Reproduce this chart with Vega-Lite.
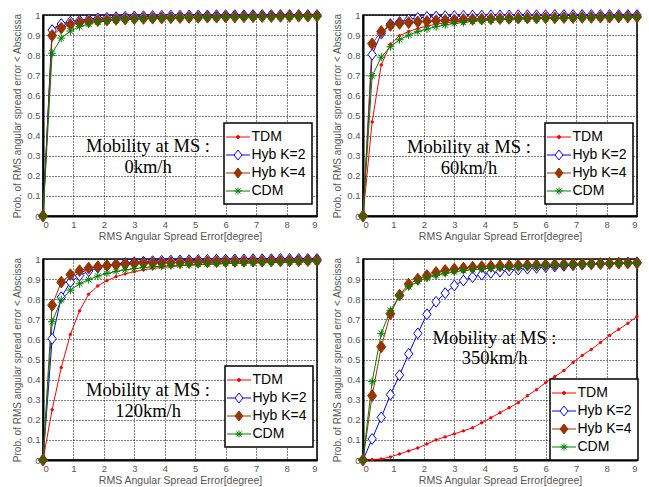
{
"$schema": "https://vega.github.io/schema/vega-lite/v6.json",
"background": "white",
"padding": {"left": 12, "top": 6, "right": 0, "bottom": 0},
"columns": 2,
"spacing": {"row": 43, "column": 46},
"bounds": "flush",
"resolve": {"scale": {"color": "independent", "fill": "independent", "shape": "independent"}, "legend": {"color": "independent", "fill": "independent", "shape": "independent"}},
"config": {
  "view": {"stroke": "black", "strokeWidth": 1.5},
  "axis": {"grid": true, "gridColor": "black", "gridDash": [1, 2], "gridWidth": 1, "gridOpacity": 1, "domainColor": "black", "domainWidth": 2, "ticks": false, "labelFont": "Liberation Sans", "labelFontSize": 9.5, "labelColor": "#555555", "labelPadding": 3, "titleFont": "Liberation Sans", "titleFontWeight": "normal", "titleColor": "#555555", "titleFontSize": 10.5},
  "axisX": {"titlePadding": 3},
  "axisY": {"titleFontSize": 10, "titlePadding": 4},
  "legend": {"fillColor": "white", "strokeColor": "black", "strokeWidth": 1.5, "padding": 5.5, "labelFont": "Liberation Sans", "labelFontSize": 14, "labelColor": "black", "symbolSize": 256, "labelOffset": 5, "rowPadding": 2, "symbolStrokeWidth": 1, "symbolOpacity": 1}
},
"datasets": {
"d0": [
{"x":0,"s":"TDM","p":0},{"x":0.3,"s":"TDM","p":0.93},{"x":0.6,"s":"TDM","p":0.957},{"x":0.9,"s":"TDM","p":0.967},{"x":1.2,"s":"TDM","p":0.973},{"x":1.5,"s":"TDM","p":0.978},{"x":1.8,"s":"TDM","p":0.982},{"x":2.1,"s":"TDM","p":0.985},{"x":2.4,"s":"TDM","p":0.987},{"x":2.7,"s":"TDM","p":0.989},{"x":3,"s":"TDM","p":0.99},{"x":3.3,"s":"TDM","p":0.991},{"x":3.6,"s":"TDM","p":0.992},{"x":3.9,"s":"TDM","p":0.993},{"x":4.2,"s":"TDM","p":0.994},{"x":4.5,"s":"TDM","p":0.995},{"x":4.8,"s":"TDM","p":0.995},{"x":5.1,"s":"TDM","p":0.996},{"x":5.4,"s":"TDM","p":0.996},{"x":5.7,"s":"TDM","p":0.997},{"x":6,"s":"TDM","p":0.997},{"x":6.3,"s":"TDM","p":0.997},{"x":6.6,"s":"TDM","p":0.998},{"x":6.9,"s":"TDM","p":0.998},{"x":7.2,"s":"TDM","p":0.998},{"x":7.5,"s":"TDM","p":0.998},{"x":7.8,"s":"TDM","p":0.999},{"x":8.1,"s":"TDM","p":0.999},{"x":8.4,"s":"TDM","p":0.999},{"x":8.7,"s":"TDM","p":0.999},{"x":9,"s":"TDM","p":1},
{"x":0,"s":"Hyb K=2","p":0},{"x":0.3,"s":"Hyb K=2","p":0.925},{"x":0.6,"s":"Hyb K=2","p":0.955},{"x":0.9,"s":"Hyb K=2","p":0.967},{"x":1.2,"s":"Hyb K=2","p":0.972},{"x":1.5,"s":"Hyb K=2","p":0.978},{"x":1.8,"s":"Hyb K=2","p":0.983},{"x":2.1,"s":"Hyb K=2","p":0.986},{"x":2.4,"s":"Hyb K=2","p":0.989},{"x":2.7,"s":"Hyb K=2","p":0.991},{"x":3,"s":"Hyb K=2","p":0.993},{"x":3.3,"s":"Hyb K=2","p":0.994},{"x":3.6,"s":"Hyb K=2","p":0.995},{"x":3.9,"s":"Hyb K=2","p":0.996},{"x":4.2,"s":"Hyb K=2","p":0.997},{"x":4.5,"s":"Hyb K=2","p":0.997},{"x":4.8,"s":"Hyb K=2","p":0.998},{"x":5.1,"s":"Hyb K=2","p":0.998},{"x":5.4,"s":"Hyb K=2","p":0.998},{"x":5.7,"s":"Hyb K=2","p":0.999},{"x":6,"s":"Hyb K=2","p":0.999},{"x":6.3,"s":"Hyb K=2","p":0.999},{"x":6.6,"s":"Hyb K=2","p":0.999},{"x":6.9,"s":"Hyb K=2","p":1},{"x":7.2,"s":"Hyb K=2","p":1},{"x":7.5,"s":"Hyb K=2","p":1},{"x":7.8,"s":"Hyb K=2","p":1},{"x":8.1,"s":"Hyb K=2","p":1},{"x":8.4,"s":"Hyb K=2","p":1},{"x":8.7,"s":"Hyb K=2","p":1},{"x":9,"s":"Hyb K=2","p":1},
{"x":0,"s":"Hyb K=4","p":0},{"x":0.3,"s":"Hyb K=4","p":0.898},{"x":0.6,"s":"Hyb K=4","p":0.935},{"x":0.9,"s":"Hyb K=4","p":0.953},{"x":1.2,"s":"Hyb K=4","p":0.962},{"x":1.5,"s":"Hyb K=4","p":0.968},{"x":1.8,"s":"Hyb K=4","p":0.972},{"x":2.1,"s":"Hyb K=4","p":0.975},{"x":2.4,"s":"Hyb K=4","p":0.978},{"x":2.7,"s":"Hyb K=4","p":0.98},{"x":3,"s":"Hyb K=4","p":0.982},{"x":3.3,"s":"Hyb K=4","p":0.983},{"x":3.6,"s":"Hyb K=4","p":0.984},{"x":3.9,"s":"Hyb K=4","p":0.985},{"x":4.2,"s":"Hyb K=4","p":0.986},{"x":4.5,"s":"Hyb K=4","p":0.987},{"x":4.8,"s":"Hyb K=4","p":0.988},{"x":5.1,"s":"Hyb K=4","p":0.988},{"x":5.4,"s":"Hyb K=4","p":0.989},{"x":5.7,"s":"Hyb K=4","p":0.989},{"x":6,"s":"Hyb K=4","p":0.99},{"x":6.3,"s":"Hyb K=4","p":0.99},{"x":6.6,"s":"Hyb K=4","p":0.991},{"x":6.9,"s":"Hyb K=4","p":0.991},{"x":7.2,"s":"Hyb K=4","p":0.992},{"x":7.5,"s":"Hyb K=4","p":0.992},{"x":7.8,"s":"Hyb K=4","p":0.993},{"x":8.1,"s":"Hyb K=4","p":0.993},{"x":8.4,"s":"Hyb K=4","p":0.994},{"x":8.7,"s":"Hyb K=4","p":0.994},{"x":9,"s":"Hyb K=4","p":0.995},
{"x":0,"s":"CDM","p":0},{"x":0.3,"s":"CDM","p":0.81},{"x":0.6,"s":"CDM","p":0.885},{"x":0.9,"s":"CDM","p":0.92},{"x":1.2,"s":"CDM","p":0.942},{"x":1.5,"s":"CDM","p":0.955},{"x":1.8,"s":"CDM","p":0.965},{"x":2.1,"s":"CDM","p":0.97},{"x":2.4,"s":"CDM","p":0.975},{"x":2.7,"s":"CDM","p":0.978},{"x":3,"s":"CDM","p":0.98},{"x":3.3,"s":"CDM","p":0.982},{"x":3.6,"s":"CDM","p":0.983},{"x":3.9,"s":"CDM","p":0.984},{"x":4.2,"s":"CDM","p":0.985},{"x":4.5,"s":"CDM","p":0.986},{"x":4.8,"s":"CDM","p":0.987},{"x":5.1,"s":"CDM","p":0.987},{"x":5.4,"s":"CDM","p":0.988},{"x":5.7,"s":"CDM","p":0.988},{"x":6,"s":"CDM","p":0.989},{"x":6.3,"s":"CDM","p":0.989},{"x":6.6,"s":"CDM","p":0.99},{"x":6.9,"s":"CDM","p":0.99},{"x":7.2,"s":"CDM","p":0.991},{"x":7.5,"s":"CDM","p":0.991},{"x":7.8,"s":"CDM","p":0.992},{"x":8.1,"s":"CDM","p":0.992},{"x":8.4,"s":"CDM","p":0.993},{"x":8.7,"s":"CDM","p":0.993},{"x":9,"s":"CDM","p":0.994}
],
"d60": [
{"x":0,"s":"TDM","p":0},{"x":0.3,"s":"TDM","p":0.468},{"x":0.6,"s":"TDM","p":0.752},{"x":0.9,"s":"TDM","p":0.855},{"x":1.2,"s":"TDM","p":0.897},{"x":1.5,"s":"TDM","p":0.918},{"x":1.8,"s":"TDM","p":0.933},{"x":2.1,"s":"TDM","p":0.945},{"x":2.4,"s":"TDM","p":0.954},{"x":2.7,"s":"TDM","p":0.961},{"x":3,"s":"TDM","p":0.966},{"x":3.3,"s":"TDM","p":0.97},{"x":3.6,"s":"TDM","p":0.973},{"x":3.9,"s":"TDM","p":0.976},{"x":4.2,"s":"TDM","p":0.978},{"x":4.5,"s":"TDM","p":0.98},{"x":4.8,"s":"TDM","p":0.981},{"x":5.1,"s":"TDM","p":0.982},{"x":5.4,"s":"TDM","p":0.983},{"x":5.7,"s":"TDM","p":0.984},{"x":6,"s":"TDM","p":0.985},{"x":6.3,"s":"TDM","p":0.986},{"x":6.6,"s":"TDM","p":0.987},{"x":6.9,"s":"TDM","p":0.987},{"x":7.2,"s":"TDM","p":0.988},{"x":7.5,"s":"TDM","p":0.988},{"x":7.8,"s":"TDM","p":0.989},{"x":8.1,"s":"TDM","p":0.989},{"x":8.4,"s":"TDM","p":0.99},{"x":8.7,"s":"TDM","p":0.99},{"x":9,"s":"TDM","p":0.99},
{"x":0,"s":"Hyb K=2","p":0},{"x":0.3,"s":"Hyb K=2","p":0.803},{"x":0.6,"s":"Hyb K=2","p":0.908},{"x":0.9,"s":"Hyb K=2","p":0.955},{"x":1.2,"s":"Hyb K=2","p":0.965},{"x":1.5,"s":"Hyb K=2","p":0.978},{"x":1.8,"s":"Hyb K=2","p":0.985},{"x":2.1,"s":"Hyb K=2","p":0.99},{"x":2.4,"s":"Hyb K=2","p":0.992},{"x":2.7,"s":"Hyb K=2","p":0.994},{"x":3,"s":"Hyb K=2","p":0.995},{"x":3.3,"s":"Hyb K=2","p":0.996},{"x":3.6,"s":"Hyb K=2","p":0.997},{"x":3.9,"s":"Hyb K=2","p":0.997},{"x":4.2,"s":"Hyb K=2","p":0.998},{"x":4.5,"s":"Hyb K=2","p":0.998},{"x":4.8,"s":"Hyb K=2","p":0.998},{"x":5.1,"s":"Hyb K=2","p":0.999},{"x":5.4,"s":"Hyb K=2","p":0.999},{"x":5.7,"s":"Hyb K=2","p":0.999},{"x":6,"s":"Hyb K=2","p":0.999},{"x":6.3,"s":"Hyb K=2","p":1},{"x":6.6,"s":"Hyb K=2","p":1},{"x":6.9,"s":"Hyb K=2","p":1},{"x":7.2,"s":"Hyb K=2","p":1},{"x":7.5,"s":"Hyb K=2","p":1},{"x":7.8,"s":"Hyb K=2","p":1},{"x":8.1,"s":"Hyb K=2","p":1},{"x":8.4,"s":"Hyb K=2","p":1},{"x":8.7,"s":"Hyb K=2","p":1},{"x":9,"s":"Hyb K=2","p":1},
{"x":0,"s":"Hyb K=4","p":0},{"x":0.3,"s":"Hyb K=4","p":0.857},{"x":0.6,"s":"Hyb K=4","p":0.918},{"x":0.9,"s":"Hyb K=4","p":0.948},{"x":1.2,"s":"Hyb K=4","p":0.958},{"x":1.5,"s":"Hyb K=4","p":0.962},{"x":1.8,"s":"Hyb K=4","p":0.966},{"x":2.1,"s":"Hyb K=4","p":0.969},{"x":2.4,"s":"Hyb K=4","p":0.972},{"x":2.7,"s":"Hyb K=4","p":0.974},{"x":3,"s":"Hyb K=4","p":0.976},{"x":3.3,"s":"Hyb K=4","p":0.978},{"x":3.6,"s":"Hyb K=4","p":0.979},{"x":3.9,"s":"Hyb K=4","p":0.98},{"x":4.2,"s":"Hyb K=4","p":0.981},{"x":4.5,"s":"Hyb K=4","p":0.982},{"x":4.8,"s":"Hyb K=4","p":0.983},{"x":5.1,"s":"Hyb K=4","p":0.984},{"x":5.4,"s":"Hyb K=4","p":0.985},{"x":5.7,"s":"Hyb K=4","p":0.985},{"x":6,"s":"Hyb K=4","p":0.986},{"x":6.3,"s":"Hyb K=4","p":0.986},{"x":6.6,"s":"Hyb K=4","p":0.987},{"x":6.9,"s":"Hyb K=4","p":0.987},{"x":7.2,"s":"Hyb K=4","p":0.988},{"x":7.5,"s":"Hyb K=4","p":0.988},{"x":7.8,"s":"Hyb K=4","p":0.989},{"x":8.1,"s":"Hyb K=4","p":0.989},{"x":8.4,"s":"Hyb K=4","p":0.99},{"x":8.7,"s":"Hyb K=4","p":0.99},{"x":9,"s":"Hyb K=4","p":0.99},
{"x":0,"s":"CDM","p":0},{"x":0.3,"s":"CDM","p":0.697},{"x":0.6,"s":"CDM","p":0.79},{"x":0.9,"s":"CDM","p":0.842},{"x":1.2,"s":"CDM","p":0.877},{"x":1.5,"s":"CDM","p":0.9},{"x":1.8,"s":"CDM","p":0.917},{"x":2.1,"s":"CDM","p":0.93},{"x":2.4,"s":"CDM","p":0.942},{"x":2.7,"s":"CDM","p":0.951},{"x":3,"s":"CDM","p":0.958},{"x":3.3,"s":"CDM","p":0.963},{"x":3.6,"s":"CDM","p":0.968},{"x":3.9,"s":"CDM","p":0.972},{"x":4.2,"s":"CDM","p":0.975},{"x":4.5,"s":"CDM","p":0.977},{"x":4.8,"s":"CDM","p":0.979},{"x":5.1,"s":"CDM","p":0.98},{"x":5.4,"s":"CDM","p":0.981},{"x":5.7,"s":"CDM","p":0.982},{"x":6,"s":"CDM","p":0.983},{"x":6.3,"s":"CDM","p":0.984},{"x":6.6,"s":"CDM","p":0.985},{"x":6.9,"s":"CDM","p":0.986},{"x":7.2,"s":"CDM","p":0.987},{"x":7.5,"s":"CDM","p":0.987},{"x":7.8,"s":"CDM","p":0.988},{"x":8.1,"s":"CDM","p":0.988},{"x":8.4,"s":"CDM","p":0.989},{"x":8.7,"s":"CDM","p":0.989},{"x":9,"s":"CDM","p":0.99}
],
"d120": [
{"x":0,"s":"TDM","p":0},{"x":0.3,"s":"TDM","p":0.25},{"x":0.6,"s":"TDM","p":0.46},{"x":0.9,"s":"TDM","p":0.625},{"x":1.2,"s":"TDM","p":0.742},{"x":1.5,"s":"TDM","p":0.825},{"x":1.8,"s":"TDM","p":0.866},{"x":2.1,"s":"TDM","p":0.893},{"x":2.4,"s":"TDM","p":0.912},{"x":2.7,"s":"TDM","p":0.926},{"x":3,"s":"TDM","p":0.937},{"x":3.3,"s":"TDM","p":0.946},{"x":3.6,"s":"TDM","p":0.953},{"x":3.9,"s":"TDM","p":0.958},{"x":4.2,"s":"TDM","p":0.962},{"x":4.5,"s":"TDM","p":0.966},{"x":4.8,"s":"TDM","p":0.969},{"x":5.1,"s":"TDM","p":0.971},{"x":5.4,"s":"TDM","p":0.973},{"x":5.7,"s":"TDM","p":0.975},{"x":6,"s":"TDM","p":0.977},{"x":6.3,"s":"TDM","p":0.978},{"x":6.6,"s":"TDM","p":0.979},{"x":6.9,"s":"TDM","p":0.98},{"x":7.2,"s":"TDM","p":0.981},{"x":7.5,"s":"TDM","p":0.982},{"x":7.8,"s":"TDM","p":0.983},{"x":8.1,"s":"TDM","p":0.984},{"x":8.4,"s":"TDM","p":0.985},{"x":8.7,"s":"TDM","p":0.986},{"x":9,"s":"TDM","p":0.987},
{"x":0,"s":"Hyb K=2","p":0},{"x":0.3,"s":"Hyb K=2","p":0.603},{"x":0.6,"s":"Hyb K=2","p":0.81},{"x":0.9,"s":"Hyb K=2","p":0.885},{"x":1.2,"s":"Hyb K=2","p":0.917},{"x":1.5,"s":"Hyb K=2","p":0.94},{"x":1.8,"s":"Hyb K=2","p":0.957},{"x":2.1,"s":"Hyb K=2","p":0.967},{"x":2.4,"s":"Hyb K=2","p":0.975},{"x":2.7,"s":"Hyb K=2","p":0.98},{"x":3,"s":"Hyb K=2","p":0.984},{"x":3.3,"s":"Hyb K=2","p":0.987},{"x":3.6,"s":"Hyb K=2","p":0.989},{"x":3.9,"s":"Hyb K=2","p":0.991},{"x":4.2,"s":"Hyb K=2","p":0.992},{"x":4.5,"s":"Hyb K=2","p":0.993},{"x":4.8,"s":"Hyb K=2","p":0.994},{"x":5.1,"s":"Hyb K=2","p":0.995},{"x":5.4,"s":"Hyb K=2","p":0.996},{"x":5.7,"s":"Hyb K=2","p":0.997},{"x":6,"s":"Hyb K=2","p":0.997},{"x":6.3,"s":"Hyb K=2","p":0.998},{"x":6.6,"s":"Hyb K=2","p":0.998},{"x":6.9,"s":"Hyb K=2","p":0.999},{"x":7.2,"s":"Hyb K=2","p":0.999},{"x":7.5,"s":"Hyb K=2","p":0.999},{"x":7.8,"s":"Hyb K=2","p":1},{"x":8.1,"s":"Hyb K=2","p":1},{"x":8.4,"s":"Hyb K=2","p":1},{"x":8.7,"s":"Hyb K=2","p":1},{"x":9,"s":"Hyb K=2","p":1},
{"x":0,"s":"Hyb K=4","p":0},{"x":0.3,"s":"Hyb K=4","p":0.77},{"x":0.6,"s":"Hyb K=4","p":0.885},{"x":0.9,"s":"Hyb K=4","p":0.922},{"x":1.2,"s":"Hyb K=4","p":0.942},{"x":1.5,"s":"Hyb K=4","p":0.955},{"x":1.8,"s":"Hyb K=4","p":0.962},{"x":2.1,"s":"Hyb K=4","p":0.967},{"x":2.4,"s":"Hyb K=4","p":0.971},{"x":2.7,"s":"Hyb K=4","p":0.974},{"x":3,"s":"Hyb K=4","p":0.977},{"x":3.3,"s":"Hyb K=4","p":0.979},{"x":3.6,"s":"Hyb K=4","p":0.98},{"x":3.9,"s":"Hyb K=4","p":0.981},{"x":4.2,"s":"Hyb K=4","p":0.982},{"x":4.5,"s":"Hyb K=4","p":0.983},{"x":4.8,"s":"Hyb K=4","p":0.984},{"x":5.1,"s":"Hyb K=4","p":0.985},{"x":5.4,"s":"Hyb K=4","p":0.986},{"x":5.7,"s":"Hyb K=4","p":0.987},{"x":6,"s":"Hyb K=4","p":0.987},{"x":6.3,"s":"Hyb K=4","p":0.988},{"x":6.6,"s":"Hyb K=4","p":0.988},{"x":6.9,"s":"Hyb K=4","p":0.989},{"x":7.2,"s":"Hyb K=4","p":0.989},{"x":7.5,"s":"Hyb K=4","p":0.99},{"x":7.8,"s":"Hyb K=4","p":0.99},{"x":8.1,"s":"Hyb K=4","p":0.991},{"x":8.4,"s":"Hyb K=4","p":0.991},{"x":8.7,"s":"Hyb K=4","p":0.992},{"x":9,"s":"Hyb K=4","p":0.992},
{"x":0,"s":"CDM","p":0},{"x":0.3,"s":"CDM","p":0.688},{"x":0.6,"s":"CDM","p":0.797},{"x":0.9,"s":"CDM","p":0.845},{"x":1.2,"s":"CDM","p":0.877},{"x":1.5,"s":"CDM","p":0.897},{"x":1.8,"s":"CDM","p":0.915},{"x":2.1,"s":"CDM","p":0.928},{"x":2.4,"s":"CDM","p":0.938},{"x":2.7,"s":"CDM","p":0.946},{"x":3,"s":"CDM","p":0.952},{"x":3.3,"s":"CDM","p":0.957},{"x":3.6,"s":"CDM","p":0.961},{"x":3.9,"s":"CDM","p":0.964},{"x":4.2,"s":"CDM","p":0.967},{"x":4.5,"s":"CDM","p":0.969},{"x":4.8,"s":"CDM","p":0.971},{"x":5.1,"s":"CDM","p":0.973},{"x":5.4,"s":"CDM","p":0.975},{"x":5.7,"s":"CDM","p":0.976},{"x":6,"s":"CDM","p":0.978},{"x":6.3,"s":"CDM","p":0.979},{"x":6.6,"s":"CDM","p":0.98},{"x":6.9,"s":"CDM","p":0.981},{"x":7.2,"s":"CDM","p":0.982},{"x":7.5,"s":"CDM","p":0.983},{"x":7.8,"s":"CDM","p":0.984},{"x":8.1,"s":"CDM","p":0.985},{"x":8.4,"s":"CDM","p":0.986},{"x":8.7,"s":"CDM","p":0.987},{"x":9,"s":"CDM","p":0.988}
],
"d350": [
{"x":0,"s":"TDM","p":0},{"x":0.3,"s":"TDM","p":0.002},{"x":0.6,"s":"TDM","p":0.005},{"x":0.9,"s":"TDM","p":0.015},{"x":1.2,"s":"TDM","p":0.03},{"x":1.5,"s":"TDM","p":0.045},{"x":1.8,"s":"TDM","p":0.06},{"x":2.1,"s":"TDM","p":0.08},{"x":2.4,"s":"TDM","p":0.1},{"x":2.7,"s":"TDM","p":0.115},{"x":3,"s":"TDM","p":0.13},{"x":3.3,"s":"TDM","p":0.145},{"x":3.6,"s":"TDM","p":0.16},{"x":3.9,"s":"TDM","p":0.185},{"x":4.2,"s":"TDM","p":0.21},{"x":4.5,"s":"TDM","p":0.235},{"x":4.8,"s":"TDM","p":0.26},{"x":5.1,"s":"TDM","p":0.285},{"x":5.4,"s":"TDM","p":0.32},{"x":5.7,"s":"TDM","p":0.35},{"x":6,"s":"TDM","p":0.385},{"x":6.3,"s":"TDM","p":0.415},{"x":6.6,"s":"TDM","p":0.445},{"x":6.9,"s":"TDM","p":0.485},{"x":7.2,"s":"TDM","p":0.52},{"x":7.5,"s":"TDM","p":0.55},{"x":7.8,"s":"TDM","p":0.585},{"x":8.1,"s":"TDM","p":0.62},{"x":8.4,"s":"TDM","p":0.65},{"x":8.7,"s":"TDM","p":0.68},{"x":9,"s":"TDM","p":0.715},
{"x":0,"s":"Hyb K=2","p":0},{"x":0.3,"s":"Hyb K=2","p":0.105},{"x":0.6,"s":"Hyb K=2","p":0.212},{"x":0.9,"s":"Hyb K=2","p":0.325},{"x":1.2,"s":"Hyb K=2","p":0.422},{"x":1.5,"s":"Hyb K=2","p":0.528},{"x":1.8,"s":"Hyb K=2","p":0.63},{"x":2.1,"s":"Hyb K=2","p":0.725},{"x":2.4,"s":"Hyb K=2","p":0.787},{"x":2.7,"s":"Hyb K=2","p":0.83},{"x":3,"s":"Hyb K=2","p":0.868},{"x":3.3,"s":"Hyb K=2","p":0.893},{"x":3.6,"s":"Hyb K=2","p":0.91},{"x":3.9,"s":"Hyb K=2","p":0.922},{"x":4.2,"s":"Hyb K=2","p":0.931},{"x":4.5,"s":"Hyb K=2","p":0.937},{"x":4.8,"s":"Hyb K=2","p":0.943},{"x":5.1,"s":"Hyb K=2","p":0.948},{"x":5.4,"s":"Hyb K=2","p":0.952},{"x":5.7,"s":"Hyb K=2","p":0.956},{"x":6,"s":"Hyb K=2","p":0.96},{"x":6.3,"s":"Hyb K=2","p":0.963},{"x":6.6,"s":"Hyb K=2","p":0.966},{"x":6.9,"s":"Hyb K=2","p":0.969},{"x":7.2,"s":"Hyb K=2","p":0.972},{"x":7.5,"s":"Hyb K=2","p":0.974},{"x":7.8,"s":"Hyb K=2","p":0.976},{"x":8.1,"s":"Hyb K=2","p":0.978},{"x":8.4,"s":"Hyb K=2","p":0.98},{"x":8.7,"s":"Hyb K=2","p":0.982},{"x":9,"s":"Hyb K=2","p":0.984},
{"x":0,"s":"Hyb K=4","p":0},{"x":0.3,"s":"Hyb K=4","p":0.32},{"x":0.6,"s":"Hyb K=4","p":0.563},{"x":0.9,"s":"Hyb K=4","p":0.727},{"x":1.2,"s":"Hyb K=4","p":0.82},{"x":1.5,"s":"Hyb K=4","p":0.875},{"x":1.8,"s":"Hyb K=4","p":0.9},{"x":2.1,"s":"Hyb K=4","p":0.918},{"x":2.4,"s":"Hyb K=4","p":0.933},{"x":2.7,"s":"Hyb K=4","p":0.943},{"x":3,"s":"Hyb K=4","p":0.95},{"x":3.3,"s":"Hyb K=4","p":0.955},{"x":3.6,"s":"Hyb K=4","p":0.959},{"x":3.9,"s":"Hyb K=4","p":0.962},{"x":4.2,"s":"Hyb K=4","p":0.964},{"x":4.5,"s":"Hyb K=4","p":0.966},{"x":4.8,"s":"Hyb K=4","p":0.967},{"x":5.1,"s":"Hyb K=4","p":0.968},{"x":5.4,"s":"Hyb K=4","p":0.969},{"x":5.7,"s":"Hyb K=4","p":0.97},{"x":6,"s":"Hyb K=4","p":0.971},{"x":6.3,"s":"Hyb K=4","p":0.972},{"x":6.6,"s":"Hyb K=4","p":0.973},{"x":6.9,"s":"Hyb K=4","p":0.974},{"x":7.2,"s":"Hyb K=4","p":0.975},{"x":7.5,"s":"Hyb K=4","p":0.976},{"x":7.8,"s":"Hyb K=4","p":0.977},{"x":8.1,"s":"Hyb K=4","p":0.978},{"x":8.4,"s":"Hyb K=4","p":0.979},{"x":8.7,"s":"Hyb K=4","p":0.98},{"x":9,"s":"Hyb K=4","p":0.98},
{"x":0,"s":"CDM","p":0},{"x":0.3,"s":"CDM","p":0.39},{"x":0.6,"s":"CDM","p":0.63},{"x":0.9,"s":"CDM","p":0.745},{"x":1.2,"s":"CDM","p":0.815},{"x":1.5,"s":"CDM","p":0.862},{"x":1.8,"s":"CDM","p":0.888},{"x":2.1,"s":"CDM","p":0.905},{"x":2.4,"s":"CDM","p":0.918},{"x":2.7,"s":"CDM","p":0.928},{"x":3,"s":"CDM","p":0.936},{"x":3.3,"s":"CDM","p":0.942},{"x":3.6,"s":"CDM","p":0.947},{"x":3.9,"s":"CDM","p":0.951},{"x":4.2,"s":"CDM","p":0.954},{"x":4.5,"s":"CDM","p":0.957},{"x":4.8,"s":"CDM","p":0.959},{"x":5.1,"s":"CDM","p":0.961},{"x":5.4,"s":"CDM","p":0.963},{"x":5.7,"s":"CDM","p":0.965},{"x":6,"s":"CDM","p":0.967},{"x":6.3,"s":"CDM","p":0.969},{"x":6.6,"s":"CDM","p":0.97},{"x":6.9,"s":"CDM","p":0.972},{"x":7.2,"s":"CDM","p":0.973},{"x":7.5,"s":"CDM","p":0.974},{"x":7.8,"s":"CDM","p":0.975},{"x":8.1,"s":"CDM","p":0.976},{"x":8.4,"s":"CDM","p":0.977},{"x":8.7,"s":"CDM","p":0.978},{"x":9,"s":"CDM","p":0.979}
]
},
"concat": [
{
 "width": 274, "height": 201,
 "layer": [
  {"data": {"name": "d0"}, "mark": {"type": "line", "strokeWidth": 1},
   "encoding": {
     "x": {"field": "x", "type": "quantitative", "scale": {"domain": [0, 9], "nice": false}, "axis": {"values": [0,1,2,3,4,5,6,7,8,9], "tickCount": 10, "format": "~g", "title": "RMS Angular Spread Error[degree]"}},
     "y": {"field": "p", "type": "quantitative", "scale": {"domain": [0, 1], "nice": false}, "axis": {"values": [0,0.1,0.2,0.3,0.4,0.5,0.6,0.7,0.8,0.9,1], "tickCount": 11, "format": "~g", "title": "Prob. of RMS angular spread error < Abscissa"}},
     "color": {"field": "s", "type": "nominal", "scale": {"domain": ["TDM","Hyb K=2","Hyb K=4","CDM"], "range": ["#ff0000","#0000ff","#993300","#008000"]}}}},
  {"data": {"name": "d0"}, "transform": [{"filter": {"field": "s", "equal": "TDM"}}], "mark": {"type": "point", "shape": "circle", "size": 6, "filled": false, "fill": "#ff0000", "opacity": 1, "strokeWidth": 1},
   "encoding": {"x": {"field": "x", "type": "quantitative", "scale": {"domain": [0, 9], "nice": false}, "axis": {"values": [0,1,2,3,4,5,6,7,8,9], "tickCount": 10, "format": "~g", "title": "RMS Angular Spread Error[degree]"}}, "y": {"field": "p", "type": "quantitative", "scale": {"domain": [0, 1], "nice": false}, "axis": {"values": [0,0.1,0.2,0.3,0.4,0.5,0.6,0.7,0.8,0.9,1], "tickCount": 11, "format": "~g", "title": "Prob. of RMS angular spread error < Abscissa"}}, "color": {"field": "s", "type": "nominal"}}},
  {"data": {"name": "d0"}, "transform": [{"filter": {"field": "s", "equal": "Hyb K=2"}}], "mark": {"type": "point", "shape": "M0,-1.18L0.9,0L0,1.18L-0.9,0Z", "size": 85, "filled": false, "fill": "#ffffff", "opacity": 1, "strokeWidth": 1},
   "encoding": {"x": {"field": "x", "type": "quantitative", "scale": {"domain": [0, 9], "nice": false}, "axis": {"values": [0,1,2,3,4,5,6,7,8,9], "tickCount": 10, "format": "~g", "title": "RMS Angular Spread Error[degree]"}}, "y": {"field": "p", "type": "quantitative", "scale": {"domain": [0, 1], "nice": false}, "axis": {"values": [0,0.1,0.2,0.3,0.4,0.5,0.6,0.7,0.8,0.9,1], "tickCount": 11, "format": "~g", "title": "Prob. of RMS angular spread error < Abscissa"}}, "color": {"field": "s", "type": "nominal"}}},
  {"data": {"name": "d0"}, "transform": [{"filter": {"field": "s", "equal": "Hyb K=4"}}], "mark": {"type": "point", "shape": "M0,-1.18L0.9,0L0,1.18L-0.9,0Z", "size": 100, "filled": false, "fill": "#993300", "opacity": 1, "strokeWidth": 1},
   "encoding": {"x": {"field": "x", "type": "quantitative", "scale": {"domain": [0, 9], "nice": false}, "axis": {"values": [0,1,2,3,4,5,6,7,8,9], "tickCount": 10, "format": "~g", "title": "RMS Angular Spread Error[degree]"}}, "y": {"field": "p", "type": "quantitative", "scale": {"domain": [0, 1], "nice": false}, "axis": {"values": [0,0.1,0.2,0.3,0.4,0.5,0.6,0.7,0.8,0.9,1], "tickCount": 11, "format": "~g", "title": "Prob. of RMS angular spread error < Abscissa"}}, "color": {"field": "s", "type": "nominal"}}},
  {"data": {"name": "d0"}, "transform": [{"filter": {"field": "s", "equal": "CDM"}}], "mark": {"type": "point", "shape": "M-0.9,0L0.9,0M0,-0.9L0,0.9M-0.64,-0.64L0.64,0.64M-0.64,0.64L0.64,-0.64", "size": 80, "filled": false, "opacity": 1, "strokeWidth": 1},
   "encoding": {"x": {"field": "x", "type": "quantitative", "scale": {"domain": [0, 9], "nice": false}, "axis": {"values": [0,1,2,3,4,5,6,7,8,9], "tickCount": 10, "format": "~g", "title": "RMS Angular Spread Error[degree]"}}, "y": {"field": "p", "type": "quantitative", "scale": {"domain": [0, 1], "nice": false}, "axis": {"values": [0,0.1,0.2,0.3,0.4,0.5,0.6,0.7,0.8,0.9,1], "tickCount": 11, "format": "~g", "title": "Prob. of RMS angular spread error < Abscissa"}}, "color": {"field": "s", "type": "nominal"}}},
  {"data": {"name": "d0"}, "mark": {"type": "point", "size": 256, "filled": false, "opacity": 0, "strokeWidth": 1},
   "encoding": {"x": {"field": "x", "type": "quantitative", "scale": {"domain": [0, 9], "nice": false}, "axis": {"values": [0,1,2,3,4,5,6,7,8,9], "tickCount": 10, "format": "~g", "title": "RMS Angular Spread Error[degree]"}}, "y": {"field": "p", "type": "quantitative", "scale": {"domain": [0, 1], "nice": false}, "axis": {"values": [0,0.1,0.2,0.3,0.4,0.5,0.6,0.7,0.8,0.9,1], "tickCount": 11, "format": "~g", "title": "Prob. of RMS angular spread error < Abscissa"}},
     "color": {"field": "s", "type": "nominal", "legend": {"orient": "none", "legendX": 181, "legendY": 108, "title": null}},
     "fill": {"field": "s", "type": "nominal", "scale": {"domain": ["TDM","Hyb K=2","Hyb K=4","CDM"], "range": ["#ff0000","#ffffff","#993300","transparent"]}, "legend": {"orient": "none", "legendX": 181, "legendY": 108, "title": null}},
     "shape": {"field": "s", "type": "nominal", "scale": {"domain": ["TDM","Hyb K=2","Hyb K=4","CDM"], "range": ["M-1.5,0L1.5,0M-0.2,0A0.2,0.2,0,1,1,0.2,0A0.2,0.2,0,1,1,-0.2,0Z","M-1.5,0L-0.5,0M0.5,0L1.5,0M0,-0.62L0.5,0L0,0.62L-0.5,0Z","M-1.5,0L-0.5,0M0.5,0L1.5,0M0,-0.62L0.5,0L0,0.62L-0.5,0Z","M-1.5,0L1.5,0M-0.45,0L0.45,0M0,-0.45L0,0.45M-0.32,-0.32L0.32,0.32M-0.32,0.32L0.32,-0.32"]}, "legend": {"orient": "none", "legendX": 181, "legendY": 108, "title": null}}}},
  {"data": {"values": [{}]},
   "mark": {"type": "text", "text": ["Mobility at MS :", "0km/h"], "font": "Liberation Serif", "fontSize": 18.5, "lineHeight": 21.5, "align": "center", "baseline": "alphabetic", "color": "black"},
   "encoding": {"x": {"datum": 3.45, "type": "quantitative", "scale": {"domain": [0, 9], "nice": false}, "axis": {"values": [0,1,2,3,4,5,6,7,8,9], "tickCount": 10, "format": "~g", "title": "RMS Angular Spread Error[degree]"}}, "y": {"datum": 0.32, "type": "quantitative", "scale": {"domain": [0, 1], "nice": false}, "axis": {"values": [0,0.1,0.2,0.3,0.4,0.5,0.6,0.7,0.8,0.9,1], "tickCount": 11, "format": "~g", "title": "Prob. of RMS angular spread error < Abscissa"}}}}
 ]
},
{
 "width": 274, "height": 201,
 "layer": [
  {"data": {"name": "d60"}, "mark": {"type": "line", "strokeWidth": 1},
   "encoding": {
     "x": {"field": "x", "type": "quantitative", "scale": {"domain": [0, 9], "nice": false}, "axis": {"values": [0,1,2,3,4,5,6,7,8,9], "tickCount": 10, "format": "~g", "title": "RMS Angular Spread Error[degree]"}},
     "y": {"field": "p", "type": "quantitative", "scale": {"domain": [0, 1], "nice": false}, "axis": {"values": [0,0.1,0.2,0.3,0.4,0.5,0.6,0.7,0.8,0.9,1], "tickCount": 11, "format": "~g", "title": "Prob. of RMS angular spread error < Abscissa"}},
     "color": {"field": "s", "type": "nominal", "scale": {"domain": ["TDM","Hyb K=2","Hyb K=4","CDM"], "range": ["#ff0000","#0000ff","#993300","#008000"]}}}},
  {"data": {"name": "d60"}, "transform": [{"filter": {"field": "s", "equal": "TDM"}}], "mark": {"type": "point", "shape": "circle", "size": 6, "filled": false, "fill": "#ff0000", "opacity": 1, "strokeWidth": 1},
   "encoding": {"x": {"field": "x", "type": "quantitative", "scale": {"domain": [0, 9], "nice": false}, "axis": {"values": [0,1,2,3,4,5,6,7,8,9], "tickCount": 10, "format": "~g", "title": "RMS Angular Spread Error[degree]"}}, "y": {"field": "p", "type": "quantitative", "scale": {"domain": [0, 1], "nice": false}, "axis": {"values": [0,0.1,0.2,0.3,0.4,0.5,0.6,0.7,0.8,0.9,1], "tickCount": 11, "format": "~g", "title": "Prob. of RMS angular spread error < Abscissa"}}, "color": {"field": "s", "type": "nominal"}}},
  {"data": {"name": "d60"}, "transform": [{"filter": {"field": "s", "equal": "Hyb K=2"}}], "mark": {"type": "point", "shape": "M0,-1.18L0.9,0L0,1.18L-0.9,0Z", "size": 85, "filled": false, "fill": "#ffffff", "opacity": 1, "strokeWidth": 1},
   "encoding": {"x": {"field": "x", "type": "quantitative", "scale": {"domain": [0, 9], "nice": false}, "axis": {"values": [0,1,2,3,4,5,6,7,8,9], "tickCount": 10, "format": "~g", "title": "RMS Angular Spread Error[degree]"}}, "y": {"field": "p", "type": "quantitative", "scale": {"domain": [0, 1], "nice": false}, "axis": {"values": [0,0.1,0.2,0.3,0.4,0.5,0.6,0.7,0.8,0.9,1], "tickCount": 11, "format": "~g", "title": "Prob. of RMS angular spread error < Abscissa"}}, "color": {"field": "s", "type": "nominal"}}},
  {"data": {"name": "d60"}, "transform": [{"filter": {"field": "s", "equal": "Hyb K=4"}}], "mark": {"type": "point", "shape": "M0,-1.18L0.9,0L0,1.18L-0.9,0Z", "size": 100, "filled": false, "fill": "#993300", "opacity": 1, "strokeWidth": 1},
   "encoding": {"x": {"field": "x", "type": "quantitative", "scale": {"domain": [0, 9], "nice": false}, "axis": {"values": [0,1,2,3,4,5,6,7,8,9], "tickCount": 10, "format": "~g", "title": "RMS Angular Spread Error[degree]"}}, "y": {"field": "p", "type": "quantitative", "scale": {"domain": [0, 1], "nice": false}, "axis": {"values": [0,0.1,0.2,0.3,0.4,0.5,0.6,0.7,0.8,0.9,1], "tickCount": 11, "format": "~g", "title": "Prob. of RMS angular spread error < Abscissa"}}, "color": {"field": "s", "type": "nominal"}}},
  {"data": {"name": "d60"}, "transform": [{"filter": {"field": "s", "equal": "CDM"}}], "mark": {"type": "point", "shape": "M-0.9,0L0.9,0M0,-0.9L0,0.9M-0.64,-0.64L0.64,0.64M-0.64,0.64L0.64,-0.64", "size": 80, "filled": false, "opacity": 1, "strokeWidth": 1},
   "encoding": {"x": {"field": "x", "type": "quantitative", "scale": {"domain": [0, 9], "nice": false}, "axis": {"values": [0,1,2,3,4,5,6,7,8,9], "tickCount": 10, "format": "~g", "title": "RMS Angular Spread Error[degree]"}}, "y": {"field": "p", "type": "quantitative", "scale": {"domain": [0, 1], "nice": false}, "axis": {"values": [0,0.1,0.2,0.3,0.4,0.5,0.6,0.7,0.8,0.9,1], "tickCount": 11, "format": "~g", "title": "Prob. of RMS angular spread error < Abscissa"}}, "color": {"field": "s", "type": "nominal"}}},
  {"data": {"name": "d60"}, "mark": {"type": "point", "size": 256, "filled": false, "opacity": 0, "strokeWidth": 1},
   "encoding": {"x": {"field": "x", "type": "quantitative", "scale": {"domain": [0, 9], "nice": false}, "axis": {"values": [0,1,2,3,4,5,6,7,8,9], "tickCount": 10, "format": "~g", "title": "RMS Angular Spread Error[degree]"}}, "y": {"field": "p", "type": "quantitative", "scale": {"domain": [0, 1], "nice": false}, "axis": {"values": [0,0.1,0.2,0.3,0.4,0.5,0.6,0.7,0.8,0.9,1], "tickCount": 11, "format": "~g", "title": "Prob. of RMS angular spread error < Abscissa"}},
     "color": {"field": "s", "type": "nominal", "legend": {"orient": "none", "legendX": 182, "legendY": 108, "title": null}},
     "fill": {"field": "s", "type": "nominal", "scale": {"domain": ["TDM","Hyb K=2","Hyb K=4","CDM"], "range": ["#ff0000","#ffffff","#993300","transparent"]}, "legend": {"orient": "none", "legendX": 182, "legendY": 108, "title": null}},
     "shape": {"field": "s", "type": "nominal", "scale": {"domain": ["TDM","Hyb K=2","Hyb K=4","CDM"], "range": ["M-1.5,0L1.5,0M-0.2,0A0.2,0.2,0,1,1,0.2,0A0.2,0.2,0,1,1,-0.2,0Z","M-1.5,0L-0.5,0M0.5,0L1.5,0M0,-0.62L0.5,0L0,0.62L-0.5,0Z","M-1.5,0L-0.5,0M0.5,0L1.5,0M0,-0.62L0.5,0L0,0.62L-0.5,0Z","M-1.5,0L1.5,0M-0.45,0L0.45,0M0,-0.45L0,0.45M-0.32,-0.32L0.32,0.32M-0.32,0.32L0.32,-0.32"]}, "legend": {"orient": "none", "legendX": 182, "legendY": 108, "title": null}}}},
  {"data": {"values": [{}]},
   "mark": {"type": "text", "text": ["Mobility at MS :", "60km/h"], "font": "Liberation Serif", "fontSize": 18.5, "lineHeight": 21.5, "align": "center", "baseline": "alphabetic", "color": "black"},
   "encoding": {"x": {"datum": 3.48, "type": "quantitative", "scale": {"domain": [0, 9], "nice": false}, "axis": {"values": [0,1,2,3,4,5,6,7,8,9], "tickCount": 10, "format": "~g", "title": "RMS Angular Spread Error[degree]"}}, "y": {"datum": 0.315, "type": "quantitative", "scale": {"domain": [0, 1], "nice": false}, "axis": {"values": [0,0.1,0.2,0.3,0.4,0.5,0.6,0.7,0.8,0.9,1], "tickCount": 11, "format": "~g", "title": "Prob. of RMS angular spread error < Abscissa"}}}}
 ]
},
{
 "width": 274, "height": 201,
 "layer": [
  {"data": {"name": "d120"}, "mark": {"type": "line", "strokeWidth": 1},
   "encoding": {
     "x": {"field": "x", "type": "quantitative", "scale": {"domain": [0, 9], "nice": false}, "axis": {"values": [0,1,2,3,4,5,6,7,8,9], "tickCount": 10, "format": "~g", "title": "RMS Angular Spread Error[degree]"}},
     "y": {"field": "p", "type": "quantitative", "scale": {"domain": [0, 1], "nice": false}, "axis": {"values": [0,0.1,0.2,0.3,0.4,0.5,0.6,0.7,0.8,0.9,1], "tickCount": 11, "format": "~g", "title": "Prob. of RMS angular spread error < Abscissa"}},
     "color": {"field": "s", "type": "nominal", "scale": {"domain": ["TDM","Hyb K=2","Hyb K=4","CDM"], "range": ["#ff0000","#0000ff","#993300","#008000"]}}}},
  {"data": {"name": "d120"}, "transform": [{"filter": {"field": "s", "equal": "TDM"}}], "mark": {"type": "point", "shape": "circle", "size": 6, "filled": false, "fill": "#ff0000", "opacity": 1, "strokeWidth": 1},
   "encoding": {"x": {"field": "x", "type": "quantitative", "scale": {"domain": [0, 9], "nice": false}, "axis": {"values": [0,1,2,3,4,5,6,7,8,9], "tickCount": 10, "format": "~g", "title": "RMS Angular Spread Error[degree]"}}, "y": {"field": "p", "type": "quantitative", "scale": {"domain": [0, 1], "nice": false}, "axis": {"values": [0,0.1,0.2,0.3,0.4,0.5,0.6,0.7,0.8,0.9,1], "tickCount": 11, "format": "~g", "title": "Prob. of RMS angular spread error < Abscissa"}}, "color": {"field": "s", "type": "nominal"}}},
  {"data": {"name": "d120"}, "transform": [{"filter": {"field": "s", "equal": "Hyb K=2"}}], "mark": {"type": "point", "shape": "M0,-1.18L0.9,0L0,1.18L-0.9,0Z", "size": 85, "filled": false, "fill": "#ffffff", "opacity": 1, "strokeWidth": 1},
   "encoding": {"x": {"field": "x", "type": "quantitative", "scale": {"domain": [0, 9], "nice": false}, "axis": {"values": [0,1,2,3,4,5,6,7,8,9], "tickCount": 10, "format": "~g", "title": "RMS Angular Spread Error[degree]"}}, "y": {"field": "p", "type": "quantitative", "scale": {"domain": [0, 1], "nice": false}, "axis": {"values": [0,0.1,0.2,0.3,0.4,0.5,0.6,0.7,0.8,0.9,1], "tickCount": 11, "format": "~g", "title": "Prob. of RMS angular spread error < Abscissa"}}, "color": {"field": "s", "type": "nominal"}}},
  {"data": {"name": "d120"}, "transform": [{"filter": {"field": "s", "equal": "Hyb K=4"}}], "mark": {"type": "point", "shape": "M0,-1.18L0.9,0L0,1.18L-0.9,0Z", "size": 100, "filled": false, "fill": "#993300", "opacity": 1, "strokeWidth": 1},
   "encoding": {"x": {"field": "x", "type": "quantitative", "scale": {"domain": [0, 9], "nice": false}, "axis": {"values": [0,1,2,3,4,5,6,7,8,9], "tickCount": 10, "format": "~g", "title": "RMS Angular Spread Error[degree]"}}, "y": {"field": "p", "type": "quantitative", "scale": {"domain": [0, 1], "nice": false}, "axis": {"values": [0,0.1,0.2,0.3,0.4,0.5,0.6,0.7,0.8,0.9,1], "tickCount": 11, "format": "~g", "title": "Prob. of RMS angular spread error < Abscissa"}}, "color": {"field": "s", "type": "nominal"}}},
  {"data": {"name": "d120"}, "transform": [{"filter": {"field": "s", "equal": "CDM"}}], "mark": {"type": "point", "shape": "M-0.9,0L0.9,0M0,-0.9L0,0.9M-0.64,-0.64L0.64,0.64M-0.64,0.64L0.64,-0.64", "size": 80, "filled": false, "opacity": 1, "strokeWidth": 1},
   "encoding": {"x": {"field": "x", "type": "quantitative", "scale": {"domain": [0, 9], "nice": false}, "axis": {"values": [0,1,2,3,4,5,6,7,8,9], "tickCount": 10, "format": "~g", "title": "RMS Angular Spread Error[degree]"}}, "y": {"field": "p", "type": "quantitative", "scale": {"domain": [0, 1], "nice": false}, "axis": {"values": [0,0.1,0.2,0.3,0.4,0.5,0.6,0.7,0.8,0.9,1], "tickCount": 11, "format": "~g", "title": "Prob. of RMS angular spread error < Abscissa"}}, "color": {"field": "s", "type": "nominal"}}},
  {"data": {"name": "d120"}, "mark": {"type": "point", "size": 256, "filled": false, "opacity": 0, "strokeWidth": 1},
   "encoding": {"x": {"field": "x", "type": "quantitative", "scale": {"domain": [0, 9], "nice": false}, "axis": {"values": [0,1,2,3,4,5,6,7,8,9], "tickCount": 10, "format": "~g", "title": "RMS Angular Spread Error[degree]"}}, "y": {"field": "p", "type": "quantitative", "scale": {"domain": [0, 1], "nice": false}, "axis": {"values": [0,0.1,0.2,0.3,0.4,0.5,0.6,0.7,0.8,0.9,1], "tickCount": 11, "format": "~g", "title": "Prob. of RMS angular spread error < Abscissa"}},
     "color": {"field": "s", "type": "nominal", "legend": {"orient": "none", "legendX": 182, "legendY": 107, "title": null}},
     "fill": {"field": "s", "type": "nominal", "scale": {"domain": ["TDM","Hyb K=2","Hyb K=4","CDM"], "range": ["#ff0000","#ffffff","#993300","transparent"]}, "legend": {"orient": "none", "legendX": 182, "legendY": 107, "title": null}},
     "shape": {"field": "s", "type": "nominal", "scale": {"domain": ["TDM","Hyb K=2","Hyb K=4","CDM"], "range": ["M-1.5,0L1.5,0M-0.2,0A0.2,0.2,0,1,1,0.2,0A0.2,0.2,0,1,1,-0.2,0Z","M-1.5,0L-0.5,0M0.5,0L1.5,0M0,-0.62L0.5,0L0,0.62L-0.5,0Z","M-1.5,0L-0.5,0M0.5,0L1.5,0M0,-0.62L0.5,0L0,0.62L-0.5,0Z","M-1.5,0L1.5,0M-0.45,0L0.45,0M0,-0.45L0,0.45M-0.32,-0.32L0.32,0.32M-0.32,0.32L0.32,-0.32"]}, "legend": {"orient": "none", "legendX": 182, "legendY": 107, "title": null}}}},
  {"data": {"values": [{}]},
   "mark": {"type": "text", "text": ["Mobility at MS :", "120km/h"], "font": "Liberation Serif", "fontSize": 18.5, "lineHeight": 21.5, "align": "center", "baseline": "alphabetic", "color": "black"},
   "encoding": {"x": {"datum": 3.45, "type": "quantitative", "scale": {"domain": [0, 9], "nice": false}, "axis": {"values": [0,1,2,3,4,5,6,7,8,9], "tickCount": 10, "format": "~g", "title": "RMS Angular Spread Error[degree]"}}, "y": {"datum": 0.32, "type": "quantitative", "scale": {"domain": [0, 1], "nice": false}, "axis": {"values": [0,0.1,0.2,0.3,0.4,0.5,0.6,0.7,0.8,0.9,1], "tickCount": 11, "format": "~g", "title": "Prob. of RMS angular spread error < Abscissa"}}}}
 ]
},
{
 "width": 274, "height": 201,
 "layer": [
  {"data": {"name": "d350"}, "mark": {"type": "line", "strokeWidth": 1},
   "encoding": {
     "x": {"field": "x", "type": "quantitative", "scale": {"domain": [0, 9], "nice": false}, "axis": {"values": [0,1,2,3,4,5,6,7,8,9], "tickCount": 10, "format": "~g", "title": "RMS Angular Spread Error[degree]"}},
     "y": {"field": "p", "type": "quantitative", "scale": {"domain": [0, 1], "nice": false}, "axis": {"values": [0,0.1,0.2,0.3,0.4,0.5,0.6,0.7,0.8,0.9,1], "tickCount": 11, "format": "~g", "title": "Prob. of RMS angular spread error < Abscissa"}},
     "color": {"field": "s", "type": "nominal", "scale": {"domain": ["TDM","Hyb K=2","Hyb K=4","CDM"], "range": ["#ff0000","#0000ff","#993300","#008000"]}}}},
  {"data": {"name": "d350"}, "transform": [{"filter": {"field": "s", "equal": "TDM"}}], "mark": {"type": "point", "shape": "circle", "size": 6, "filled": false, "fill": "#ff0000", "opacity": 1, "strokeWidth": 1},
   "encoding": {"x": {"field": "x", "type": "quantitative", "scale": {"domain": [0, 9], "nice": false}, "axis": {"values": [0,1,2,3,4,5,6,7,8,9], "tickCount": 10, "format": "~g", "title": "RMS Angular Spread Error[degree]"}}, "y": {"field": "p", "type": "quantitative", "scale": {"domain": [0, 1], "nice": false}, "axis": {"values": [0,0.1,0.2,0.3,0.4,0.5,0.6,0.7,0.8,0.9,1], "tickCount": 11, "format": "~g", "title": "Prob. of RMS angular spread error < Abscissa"}}, "color": {"field": "s", "type": "nominal"}}},
  {"data": {"name": "d350"}, "transform": [{"filter": {"field": "s", "equal": "Hyb K=2"}}], "mark": {"type": "point", "shape": "M0,-1.18L0.9,0L0,1.18L-0.9,0Z", "size": 85, "filled": false, "fill": "#ffffff", "opacity": 1, "strokeWidth": 1},
   "encoding": {"x": {"field": "x", "type": "quantitative", "scale": {"domain": [0, 9], "nice": false}, "axis": {"values": [0,1,2,3,4,5,6,7,8,9], "tickCount": 10, "format": "~g", "title": "RMS Angular Spread Error[degree]"}}, "y": {"field": "p", "type": "quantitative", "scale": {"domain": [0, 1], "nice": false}, "axis": {"values": [0,0.1,0.2,0.3,0.4,0.5,0.6,0.7,0.8,0.9,1], "tickCount": 11, "format": "~g", "title": "Prob. of RMS angular spread error < Abscissa"}}, "color": {"field": "s", "type": "nominal"}}},
  {"data": {"name": "d350"}, "transform": [{"filter": {"field": "s", "equal": "Hyb K=4"}}], "mark": {"type": "point", "shape": "M0,-1.18L0.9,0L0,1.18L-0.9,0Z", "size": 100, "filled": false, "fill": "#993300", "opacity": 1, "strokeWidth": 1},
   "encoding": {"x": {"field": "x", "type": "quantitative", "scale": {"domain": [0, 9], "nice": false}, "axis": {"values": [0,1,2,3,4,5,6,7,8,9], "tickCount": 10, "format": "~g", "title": "RMS Angular Spread Error[degree]"}}, "y": {"field": "p", "type": "quantitative", "scale": {"domain": [0, 1], "nice": false}, "axis": {"values": [0,0.1,0.2,0.3,0.4,0.5,0.6,0.7,0.8,0.9,1], "tickCount": 11, "format": "~g", "title": "Prob. of RMS angular spread error < Abscissa"}}, "color": {"field": "s", "type": "nominal"}}},
  {"data": {"name": "d350"}, "transform": [{"filter": {"field": "s", "equal": "CDM"}}], "mark": {"type": "point", "shape": "M-0.9,0L0.9,0M0,-0.9L0,0.9M-0.64,-0.64L0.64,0.64M-0.64,0.64L0.64,-0.64", "size": 80, "filled": false, "opacity": 1, "strokeWidth": 1},
   "encoding": {"x": {"field": "x", "type": "quantitative", "scale": {"domain": [0, 9], "nice": false}, "axis": {"values": [0,1,2,3,4,5,6,7,8,9], "tickCount": 10, "format": "~g", "title": "RMS Angular Spread Error[degree]"}}, "y": {"field": "p", "type": "quantitative", "scale": {"domain": [0, 1], "nice": false}, "axis": {"values": [0,0.1,0.2,0.3,0.4,0.5,0.6,0.7,0.8,0.9,1], "tickCount": 11, "format": "~g", "title": "Prob. of RMS angular spread error < Abscissa"}}, "color": {"field": "s", "type": "nominal"}}},
  {"data": {"name": "d350"}, "mark": {"type": "point", "size": 256, "filled": false, "opacity": 0, "strokeWidth": 1},
   "encoding": {"x": {"field": "x", "type": "quantitative", "scale": {"domain": [0, 9], "nice": false}, "axis": {"values": [0,1,2,3,4,5,6,7,8,9], "tickCount": 10, "format": "~g", "title": "RMS Angular Spread Error[degree]"}}, "y": {"field": "p", "type": "quantitative", "scale": {"domain": [0, 1], "nice": false}, "axis": {"values": [0,0.1,0.2,0.3,0.4,0.5,0.6,0.7,0.8,0.9,1], "tickCount": 11, "format": "~g", "title": "Prob. of RMS angular spread error < Abscissa"}},
     "color": {"field": "s", "type": "nominal", "legend": {"orient": "none", "legendX": 187, "legendY": 120, "title": null}},
     "fill": {"field": "s", "type": "nominal", "scale": {"domain": ["TDM","Hyb K=2","Hyb K=4","CDM"], "range": ["#ff0000","#ffffff","#993300","transparent"]}, "legend": {"orient": "none", "legendX": 187, "legendY": 120, "title": null}},
     "shape": {"field": "s", "type": "nominal", "scale": {"domain": ["TDM","Hyb K=2","Hyb K=4","CDM"], "range": ["M-1.5,0L1.5,0M-0.2,0A0.2,0.2,0,1,1,0.2,0A0.2,0.2,0,1,1,-0.2,0Z","M-1.5,0L-0.5,0M0.5,0L1.5,0M0,-0.62L0.5,0L0,0.62L-0.5,0Z","M-1.5,0L-0.5,0M0.5,0L1.5,0M0,-0.62L0.5,0L0,0.62L-0.5,0Z","M-1.5,0L1.5,0M-0.45,0L0.45,0M0,-0.45L0,0.45M-0.32,-0.32L0.32,0.32M-0.32,0.32L0.32,-0.32"]}, "legend": {"orient": "none", "legendX": 187, "legendY": 120, "title": null}}}},
  {"data": {"values": [{}]},
   "mark": {"type": "text", "text": ["Mobility at MS :", "350km/h"], "font": "Liberation Serif", "fontSize": 18.5, "lineHeight": 20, "align": "center", "baseline": "alphabetic", "color": "black"},
   "encoding": {"x": {"datum": 4.32, "type": "quantitative", "scale": {"domain": [0, 9], "nice": false}, "axis": {"values": [0,1,2,3,4,5,6,7,8,9], "tickCount": 10, "format": "~g", "title": "RMS Angular Spread Error[degree]"}}, "y": {"datum": 0.577, "type": "quantitative", "scale": {"domain": [0, 1], "nice": false}, "axis": {"values": [0,0.1,0.2,0.3,0.4,0.5,0.6,0.7,0.8,0.9,1], "tickCount": 11, "format": "~g", "title": "Prob. of RMS angular spread error < Abscissa"}}}}
 ]
}
]
}
